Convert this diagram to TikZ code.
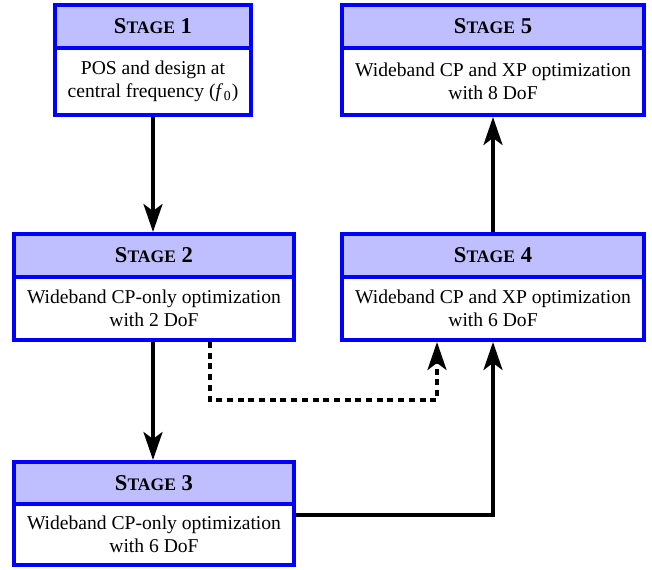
\documentclass[tikz,border=0pt]{standalone}
\usepackage{fontspec}
\setmainfont{Liberation Serif}
\usetikzlibrary{arrows.meta}
\newcommand{\stg}[1]{{\bfseries\fontsize{11.3}{13}\selectfont S{\fontsize{8.8}{10}\selectfont TAGE} #1}}
\tikzset{
  head/.style={draw=blue, line width=2pt, fill=blue!25, inner sep=0pt},
  body/.style={draw=blue, line width=2pt, fill=white, inner sep=0pt, align=center,
    font=\fontsize{9.8}{11.5}\selectfont},
  arr/.style={line width=1.8pt, -{Stealth[length=14pt,width=9.5pt,inset=3.5pt]}},
  dotarr/.style={arr, dash pattern=on 3pt off 2.35pt}
}
\begin{document}
\begin{tikzpicture}[x=0.5pt,y=-0.5pt]
\useasboundingbox (0,0) rectangle (652,569);
% Stage 1
\node[head, minimum width=98pt, minimum height=21.5pt] (h1) at (153,26.5) {\stg{1}};
\node[body, minimum width=98pt, minimum height=33.5pt] (b1) at (153,81.5) {POS and design at\\central frequency (\textit{f}\kern0.3pt\textsubscript{0})};
% Stage 5
\node[head, minimum width=151pt, minimum height=21.5pt] (h5) at (493,26.5) {\stg{5}};
\node[body, minimum width=151pt, minimum height=33.5pt] (b5) at (493,81.5) {Wideband CP and XP optimization\\with 8 DoF};
% Stage 2
\node[head, minimum width=140pt, minimum height=21.5pt] (h2) at (154,255.5) {\stg{2}};
\node[body, minimum width=140pt, minimum height=31.5pt] (b2) at (154,308.5) {Wideband CP-only optimization\\with 2 DoF};
% Stage 4
\node[head, minimum width=151pt, minimum height=21.5pt] (h4) at (493,255.5) {\stg{4}};
\node[body, minimum width=151pt, minimum height=31.5pt] (b4) at (493,308.5) {Wideband CP and XP optimization\\with 6 DoF};
% Stage 3
\node[head, minimum width=140pt, minimum height=21pt] (h3) at (154,483) {\stg{3}};
\node[body, minimum width=140pt, minimum height=30.5pt] (b3) at (154,534.5) {Wideband CP-only optimization\\with 6 DoF};
% helper coordinates
\coordinate (d1) at (210,400);
\coordinate (d2) at (437,400);
\coordinate (c1) at (300,515);
% connectors
\draw[arr] (b1.south) -- (b1.south |- h2.north);
\draw[arr] (b2.south -| b1.south) -- (b1.south |- h3.north);
\draw[arr] (h4.north) -- (b5.south);
\draw[arr] (b3.east |- c1) -| (b4.south);
\draw[dotarr] (b2.south -| d1) -- (d1) -- (d2) -- (b4.south -| d2);
\end{tikzpicture}
\end{document}
